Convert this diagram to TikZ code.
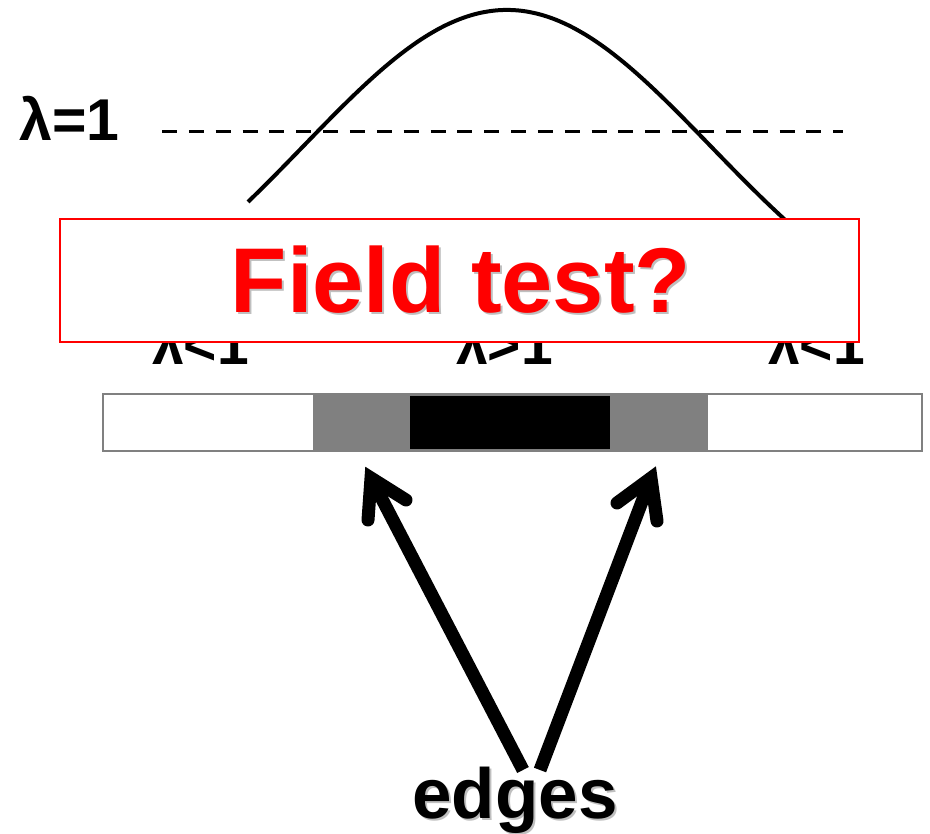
\documentclass[tikz,border=0pt]{standalone}
\usepackage{fontspec}
\setmainfont{Liberation Sans}
\begin{document}
\begin{tikzpicture}[x=1pt,y=-1pt,
  lambdalbl/.style={font=\bfseries\fontsize{59}{59}\selectfont, inner sep=0pt, anchor=base west},
  zonelbl/.style={font=\bfseries\fontsize{57}{57}\selectfont, inner sep=0pt, anchor=base west},
  bigred/.style={font=\bfseries\fontsize{92}{92}\selectfont, inner sep=0pt, anchor=base, text=red},
  edgelbl/.style={font=\bfseries\fontsize{71}{71}\selectfont, inner sep=0pt, anchor=base},
  txtshadow/.style={text=black!25},
  curveline/.style={line width=4pt, black},
  thresh/.style={line width=3pt, dash pattern=on 15pt off 11.85pt},
  shaft/.style={line width=13pt, line cap=butt},
  barb/.style={line width=13pt, line cap=round, line join=miter},
]
\useasboundingbox (0,0) rectangle (930,834);

% threshold line
\node[lambdalbl] (l1) at (19,141) {λ=1};
\coordinate (dashA) at (162,131.5);
\coordinate (dashB) at (843,131.5);
\draw[thresh] (dashA) -- (dashB);

% bell curve
\draw[curveline] plot[domain=248:786, samples=120, smooth]
  (\x, {356-346*exp(-0.5*((\x-507)/203.6)^2)});

% zone labels (partly hidden by the box)
\node[zonelbl] (la) at (152,365) {λ<1};
\node[zonelbl] (lb) at (456,365) {λ>1};
\node[zonelbl] (lc) at (768,365) {λ<1};

% overlay box
\node[draw=red, line width=2pt, fill=white, minimum width=799pt, minimum height=123pt,
      inner sep=0pt, anchor=north west] (box) at (59,218) {};
\node[bigred, txtshadow] (ftshadow) at (463,315) {Field test?};
\node[bigred] (ft) at (461,313) {Field test?};

% bar
\draw[draw=gray, line width=2pt, fill=white] (103,394) rectangle (922,451);
\fill[gray] (313,393) rectangle (708,452);
\fill[black] (410,396) rectangle (610,449);

% edges label and arrows
\node[edgelbl, txtshadow] (edgesshadow) at (517,820) {edges};
\node[edgelbl] (edges) at (515,818) {edges};
\coordinate (tailL) at (523,770);
\coordinate (tailR) at (540,770);
\coordinate (tipL) at (371,478);
\coordinate (tipR) at (651,478);
\coordinate (bL1) at (368,520);
\coordinate (bL2) at (406,500);
\coordinate (bR1) at (657,521);
\coordinate (bR2) at (617,503);
\draw[shaft] (tailL) -- (tipL);
\draw[shaft] (tailR) -- (tipR);
\draw[barb] (bL1) -- (tipL) -- (bL2);
\draw[barb] (bR1) -- (tipR) -- (bR2);
\end{tikzpicture}
\end{document}
